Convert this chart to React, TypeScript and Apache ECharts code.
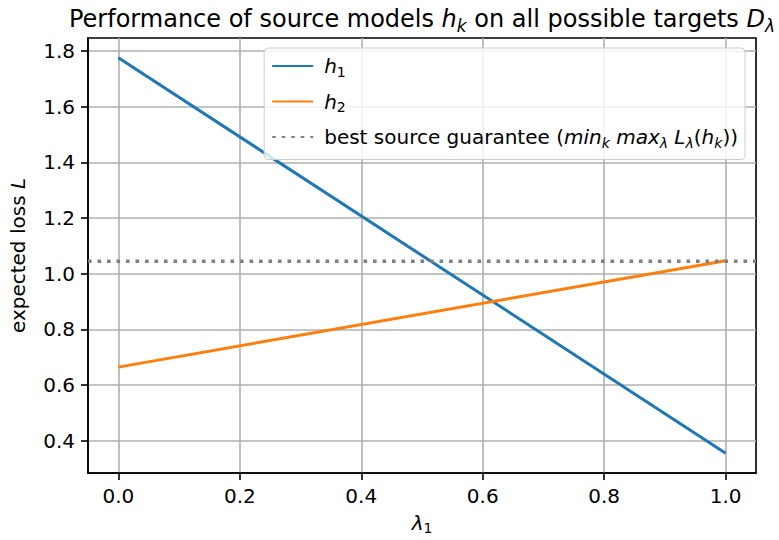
import React, { useEffect, useRef } from "react";
import * as echarts from "echarts";

const xValues = [0, 1];
const h1Values = [1.775, 0.356];
const h2Values = [0.665, 1.047];
const guaranteeValue = 1.045;
const xRange = [-0.05, 1.05];
const yRange = [0.285, 1.846];
const xTicks = [0, 0.2, 0.4, 0.6, 0.8, 1.0];
const yTicks = [0.4, 0.6, 0.8, 1.0, 1.2, 1.4, 1.6, 1.8];
const seriesNames = ["h1", "h2", "guarantee"];
const legendLabels: Record<string, string> = {
  h1: "{it|h}{sub|1}",
  h2: "{it|h}{sub|2}",
  guarantee:
    "best source guarantee ({it|min}{subit|k} {it|max}{subit|λ} {it|L}{subit|λ}({it|h}{subit|k}))",
};
const titleText =
  "Performance of source models {it|h}{subit|k} on all possible targets {it|D}{subit|λ}";

const FONT = "DejaVu Sans";
const FS = 20;

const rich = (fs: number) => ({
  it: { fontFamily: FONT, fontSize: fs, fontStyle: "italic" as const, color: "#000" },
  sub: { fontFamily: FONT, fontSize: Math.round(fs * 0.7), padding: [Math.round(fs * 0.55), 0, 0, 0], color: "#000" },
  subit: {
    fontFamily: FONT,
    fontSize: Math.round(fs * 0.7),
    fontStyle: "italic" as const,
    padding: [Math.round(fs * 0.55), 0, 0, 0],
    color: "#000",
  },
});

export default function App() {
  const ref = useRef<HTMLDivElement>(null);
  useEffect(() => {
    if (!ref.current) return;
    const chart = echarts.init(ref.current, null, { renderer: "svg" });
    const gridLeft = 88;
    const gridRight = 23;
    const gridTop = 38;
    const gridBottom = 66;
    const plotCenter = gridLeft + (779 - gridLeft - gridRight) / 2;
    const axisCommon = {
      axisLine: { show: true, onZero: false, lineStyle: { color: "#000", width: 1.6 } },
      axisTick: { show: true, length: 7, inside: false, lineStyle: { color: "#000", width: 1.6 } },
      splitLine: { show: true, lineStyle: { color: "#b0b0b0", width: 1.6 } },
    };
    chart.setOption({
      animation: false,
      backgroundColor: "#fff",
      textStyle: { fontFamily: FONT },
      graphic: [
        {
          type: "text",
          x: plotCenter,
          y: 19,
          style: {
            text: titleText,
            rich: rich(24),
            fontFamily: FONT,
            fontSize: 24,
            fill: "#000",
            align: "center",
            verticalAlign: "middle",
          },
        },
      ],
      grid: {
        left: gridLeft,
        right: gridRight,
        top: gridTop,
        bottom: gridBottom,
        show: true,
        borderColor: "#000",
        borderWidth: 1.6,
        containLabel: false,
      },
      legend: {
        show: true,
        orient: "vertical",
        right: 34,
        top: 48,
        data: seriesNames,
        itemWidth: 41,
        itemHeight: 14,
        itemGap: 13,
        padding: [8, 7, 10, 7],
        backgroundColor: "rgba(255,255,255,0.8)",
        borderColor: "#cccccc",
        borderWidth: 1,
        borderRadius: 4,
        itemStyle: { opacity: 0 },
        formatter: (name: string) => legendLabels[name],
        textStyle: { fontFamily: FONT, fontSize: FS, color: "#000", rich: rich(FS), padding: [0, 0, 0, 6] },
      },
      xAxis: {
        type: "value",
        min: xRange[0],
        max: xRange[1],
        ...axisCommon,
        axisTick: { ...axisCommon.axisTick, customValues: xTicks },
        axisLabel: {
          customValues: xTicks,
          margin: 13,
          fontFamily: FONT,
          fontSize: FS,
          color: "#000",
          formatter: (v: number) => v.toFixed(1),
        },
        name: "{it|λ}{sub|1}",
        nameLocation: "middle",
        nameGap: 37,
        nameTextStyle: { fontFamily: FONT, fontSize: FS, color: "#000", rich: rich(FS), verticalAlign: "top" },
      },
      yAxis: {
        type: "value",
        min: yRange[0],
        max: yRange[1],
        ...axisCommon,
        axisTick: { ...axisCommon.axisTick, customValues: yTicks },
        axisLabel: {
          customValues: yTicks,
          margin: 13,
          fontFamily: FONT,
          fontSize: FS,
          color: "#000",
          formatter: (v: number) => v.toFixed(1),
        },
        name: "expected loss {it|L}",
        nameLocation: "middle",
        nameGap: 60,
        nameRotate: 90,
        nameTextStyle: { fontFamily: FONT, fontSize: FS, color: "#000", rich: rich(FS) },
      },
      series: [
        {
          name: seriesNames[0],
          type: "line",
          data: xValues.map((x, i) => [x, h1Values[i]]),
          showSymbol: false,
          symbol: "none",
          lineStyle: { color: "#1f77b4", width: 3 },
          itemStyle: { color: "#1f77b4" },
        },
        {
          name: seriesNames[1],
          type: "line",
          data: xValues.map((x, i) => [x, h2Values[i]]),
          showSymbol: false,
          symbol: "none",
          lineStyle: { color: "#ff7f0e", width: 3 },
          itemStyle: { color: "#ff7f0e" },
        },
        {
          name: seriesNames[2],
          type: "line",
          data: xRange.map((x) => [x, guaranteeValue]),
          showSymbol: false,
          symbol: "none",
          lineStyle: { color: "#808080", width: 3.6, type: [3.6, 5.9], cap: "butt" },
          itemStyle: { color: "#808080" },
        },
      ],
    });
    return () => chart.dispose();
  }, []);
  return (
    <div
      ref={ref}
      style={{ position: "absolute", left: 0, top: 0, width: 779, height: 540, background: "#fff" }}
    />
  );
}
